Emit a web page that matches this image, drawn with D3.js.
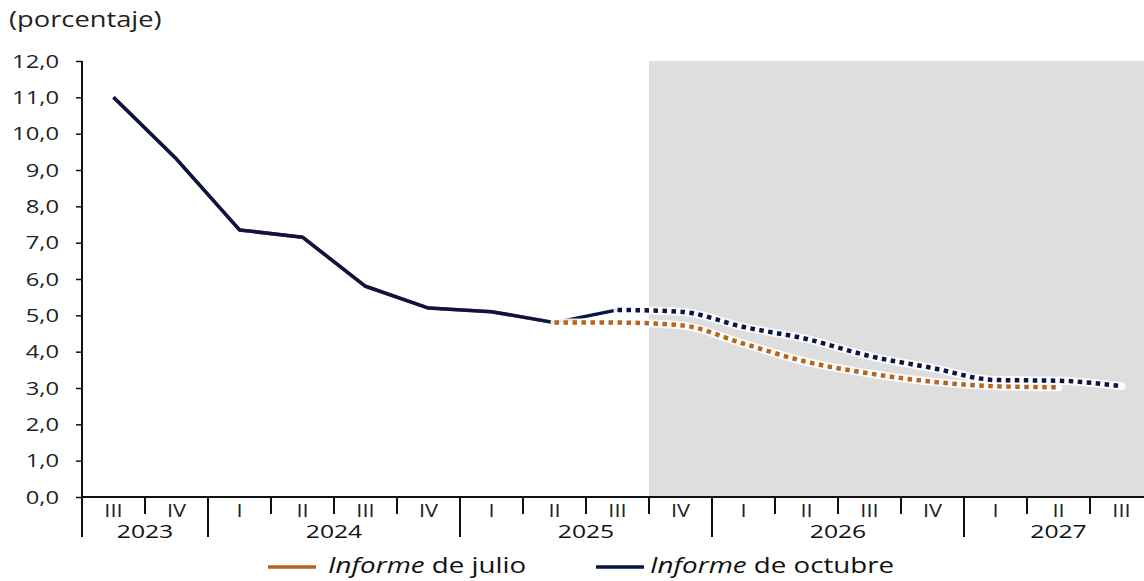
<!DOCTYPE html>
<html><head><meta charset="utf-8">
<script src="https://cdn.jsdelivr.net/npm/d3@7"></script>
<style>
body{margin:0;background:#fff;}
svg{display:block;font-family:"Open Sans","Noto Sans",sans-serif;}
</style></head>
<body><svg id="c" width="1144" height="581"></svg>
<script>
// ---- data ----
const categories = ["2023-III","2023-IV","2024-I","2024-II","2024-III","2024-IV","2025-I","2025-II","2025-III","2025-IV","2026-I","2026-II","2026-III","2026-IV","2027-I","2027-II","2027-III"];
const yTicks = [0,1,2,3,4,5,6,7,8,9,10,11,12];
// observed (same in both reports up to 2025-II)
const octubreObservedCats = ["2023-III","2023-IV","2024-I","2024-II","2024-III","2024-IV","2025-I","2025-II","2025-III"];
const octubreObserved = [11.0, 9.3, 7.35, 7.15, 5.8, 5.2, 5.1, 4.8, 5.15];
const julioObservedCats = ["2023-III","2023-IV","2024-I","2024-II","2024-III","2024-IV","2025-I","2025-II"];
const julioObserved = [11.0, 9.3, 7.35, 7.15, 5.8, 5.2, 5.1, 4.8];
// projections
const octubreProjCats = ["2025-III","2025-IV","2026-I","2026-II","2026-III","2026-IV","2027-I","2027-II","2027-III"];
const octubreProj = [5.15, 5.1, 4.68, 4.35, 3.88, 3.55, 3.22, 3.2, 3.05];
const julioProjCats = ["2025-II","2025-III","2025-IV","2026-I","2026-II","2026-III","2026-IV","2027-I","2027-II"];
const julioProj = [4.8, 4.8, 4.73, 4.22, 3.72, 3.4, 3.17, 3.05, 3.02];
const shadeFrom = "2025-IV";
const legendLabels = [["Informe"," de julio"],["Informe"," de octubre"]];
const colors = {julio:"#b5651d", octubre:"#0b1446"};

// ---- layout ----
const svg = d3.select("#c");
const x0 = 82, bw = 63;
const x = d3.scaleBand().domain(categories).range([x0, x0 + bw*categories.length]).padding(0);
const y = d3.scaleLinear().domain([0,12]).range([497, 61]);
const cx = c => x(c) + x.bandwidth()/2;

function txt(parent, px, py, size, anchor, fill, sx){
  return parent.append("text")
    .attr("transform", `translate(${px},${py}) scale(${sx},1)`)
    .attr("font-size", size).attr("text-anchor", anchor).attr("fill", fill);
}

// shade
svg.append("rect")
  .attr("x", x(shadeFrom)).attr("y", y(12))
  .attr("width", 1144 - x(shadeFrom)).attr("height", y(0)-y(12))
  .attr("fill", "#dedede");

// title
txt(svg, 9, 27, 21, "start", "#222", 1.3).text("(porcentaje)");

// y axis
const yAxis = d3.axisLeft(y).tickValues(yTicks).tickSize(6).tickFormat("");
const gy = svg.append("g").attr("transform", `translate(${x0},0)`).call(yAxis);
gy.select(".domain").remove();
gy.selectAll("line").attr("stroke","#111").attr("stroke-width",1.5);
yTicks.forEach(v => {
  txt(svg, 59, y(v) + 6.5, 19, "end", "#222", 1.25).text(d3.format(".1f")(v).replace(".", ","));
});
svg.append("line").attr("x1",x0).attr("x2",x0).attr("y1",y(12)).attr("y2",537).attr("stroke","#111").attr("stroke-width",2);

// x axis
const gx = svg.append("g").attr("transform",`translate(0,${y(0)})`);
gx.append("line").attr("x1",x0).attr("x2",1144).attr("y1",0).attr("y2",0).attr("stroke","#111").attr("stroke-width",2);
categories.forEach((c,i) => {
  const q = c.split("-")[1];
  const isYearStart = q === "I";
  if (i > 0) {
    gx.append("line").attr("x1",x(c)).attr("x2",x(c)).attr("y1",0).attr("y2", isYearStart ? 40 : 17)
      .attr("stroke","#111").attr("stroke-width",2);
  }
  txt(gx, cx(c), 20, 17.5, "middle", "#222", 1.25).text(q);
});
// year labels
const years = Array.from(new Set(categories.map(c => c.split("-")[0])));
years.forEach(yr => {
  const cs = categories.filter(c => c.startsWith(yr));
  const a = x(cs[0]), b = x(cs[cs.length-1]) + bw;
  txt(gx, (a+b)/2, 40.5, 19, "middle", "#111", 1.3).text(yr);
});

// lines
const mk = (cats, vals) => cats.map((c,i)=>({c, v: vals[i]}));
const lineStraight = d3.line().x(d=>cx(d.c)).y(d=>y(d.v));
const lineCurve = d3.line().x(d=>cx(d.c)).y(d=>y(d.v)).curve(d3.curveMonotoneX);

function solid(data, col){
  svg.append("path").datum(data).attr("d",lineStraight).attr("fill","none")
    .attr("stroke",col).attr("stroke-width",3.5).attr("stroke-linejoin","round");
}
function dotted(data, col){
  svg.append("path").datum(data).attr("d",lineCurve).attr("fill","none")
    .attr("stroke","#fff").attr("stroke-width",8).attr("stroke-linecap","round").attr("opacity",0.9);
  svg.append("path").datum(data).attr("d",lineCurve).attr("fill","none")
    .attr("stroke",col).attr("stroke-width",4.5).attr("stroke-dasharray","4.5,4.5");
}
solid(mk(julioObservedCats, julioObserved), colors.julio);
solid(mk(octubreObservedCats, octubreObserved), colors.octubre);
dotted(mk(julioProjCats, julioProj), colors.julio);
dotted(mk(octubreProjCats, octubreProj), colors.octubre);

// legend
const legend = [{x:268, tx:328, col:colors.julio, t:legendLabels[0]},{x:596, tx:650, col:colors.octubre, t:legendLabels[1]}];
legend.forEach(l => {
  svg.append("line").attr("x1",l.x).attr("x2",l.x+48).attr("y1",567).attr("y2",567).attr("stroke",l.col).attr("stroke-width",3.5);
  const t = txt(svg, l.tx, 573, 21, "start", "#111", 1.32);
  t.append("tspan").attr("font-style","italic").text(l.t[0]);
  t.append("tspan").text(l.t[1]);
});
</script></body></html>
